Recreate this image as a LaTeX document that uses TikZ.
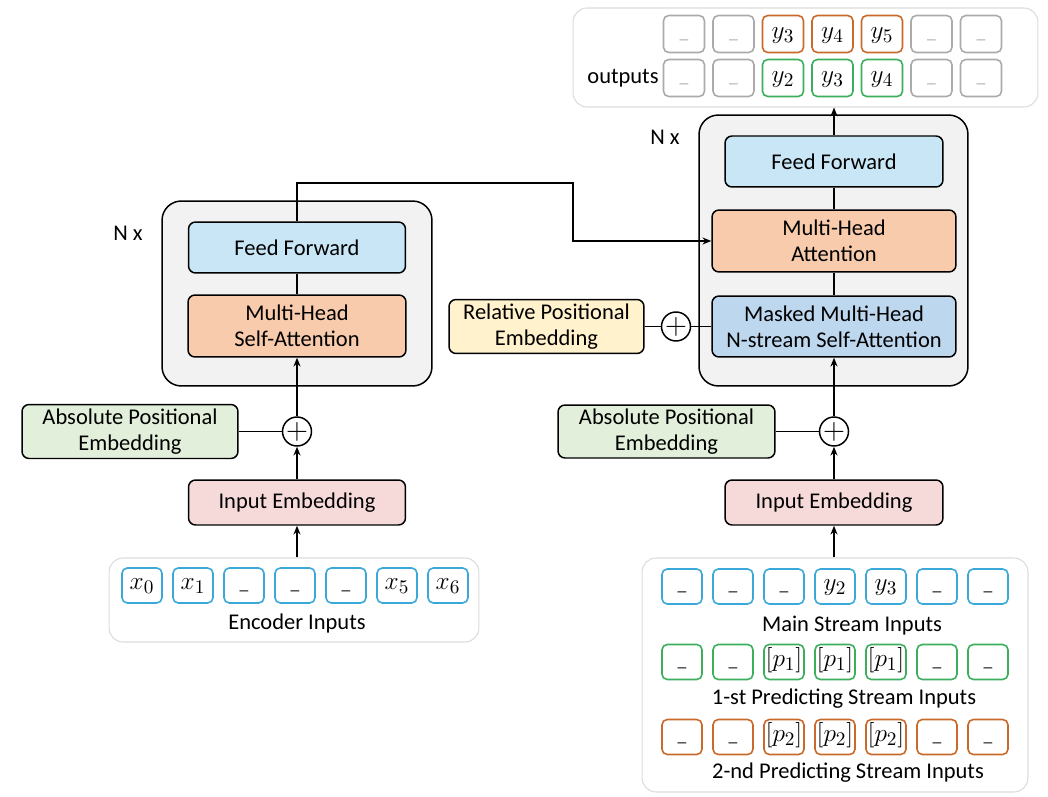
\documentclass[tikz,border=0pt]{standalone}
\usepackage{fontspec}
\setmainfont{Carlito}
\usetikzlibrary{arrows.meta}
\definecolor{ffblue}{HTML}{C8E6F5}
\definecolor{attorange}{HTML}{F7CBAC}
\definecolor{maskblue}{HTML}{BDD7EE}
\definecolor{relyellow}{HTML}{FFF2CC}
\definecolor{absgreen}{HTML}{E2EFDA}
\definecolor{embpink}{HTML}{F6DADA}
\definecolor{blkgray}{HTML}{F2F2F2}
\definecolor{cellblue}{HTML}{3AA8D8}
\definecolor{cellgreen}{HTML}{3BAF5B}
\definecolor{cellorange}{HTML}{C96A2A}
\definecolor{cellgray}{HTML}{ABABAB}
\definecolor{panelgray}{HTML}{DCDCDC}
\newcommand{\blank}{{\fontsize{10}{10}\selectfont\_}}
\newcommand{\gblank}{\textcolor{cellgray}{\blank}}
\begin{document}
\begin{tikzpicture}[x=0.02cm, y=-0.02cm, font=\fontsize{12.8}{15}\selectfont, >={Stealth[length=5pt,width=4pt]},
	box/.style={draw, line width=0.85pt, rounded corners=4pt, align=center, inner sep=0pt},
	blk/.style={draw, line width=0.85pt, rounded corners=11pt, fill=blkgray},
	panel/.style={draw=panelgray, line width=0.6pt, rounded corners=8pt, fill=white},
	cell/.style={draw=#1, line width=0.9pt, rounded corners=3pt, minimum width=0.8cm, minimum height=0.7cm, inner sep=0pt, text height=9pt, text depth=4pt, font=\fontsize{15}{16}\selectfont},
	plus/.style={draw, circle, line width=0.85pt, minimum size=0.56cm, inner sep=0pt, fill=white, font=\fontsize{16}{16}\selectfont},
	link/.style={line width=0.75pt}]
	\useasboundingbox (0,0) rectangle (1048,797);
	\node[blk, minimum width=5.4cm, minimum height=3.7cm] (encblk) at (297,293.5) {};
	\node[blk, minimum width=5.38cm, minimum height=5.42cm] (decblk) at (833.5,250.5) {};
	\node (encn) at (128,233) {N x};
	\node (decn) at (665,137) {N x};
	\node[box, fill=ffblue, minimum width=4.34cm, minimum height=1.02cm] (encff) at (297,247.5) {Feed Forward};
	\node[box, fill=attorange, minimum width=4.36cm, minimum height=1.24cm] (encatt) at (297,326) {Multi-Head\\Self-Attention};
	\node[plus] (encadd) at (297,431.5) {$+$};
	\node[box, fill=absgreen, minimum width=4.32cm, minimum height=1.08cm] (encabs) at (130,431.5) {Absolute Positional\\Embedding};
	\node[box, fill=embpink, minimum width=4.34cm, minimum height=0.9cm] (encemb) at (297,502.5) {Input Embedding};
	\node[panel, minimum width=7.4cm, minimum height=1.68cm] (encin) at (294,600) {};
	\foreach \t [count=\i from 0] in {$x_0$,$x_1$,\blank,\blank,\blank,$x_5$,$x_6$}{
		\node[cell=cellblue] (ein\i) at (142+51*\i,585.5) {\t};
	}
	\node (encinlbl) at (297,624) {Encoder Inputs};
	\node[box, fill=ffblue, minimum width=4.36cm, minimum height=1.02cm] (decff) at (834,161.5) {Feed Forward};
	\node[box, fill=attorange, minimum width=4.88cm, minimum height=1.24cm] (decatt) at (834,241) {Multi-Head\\Attention};
	\node[box, fill=maskblue, minimum width=4.88cm, minimum height=1.22cm] (decmask) at (834,326.5) {Masked Multi-Head\\N-stream Self-Attention};
	\node[plus] (reladd) at (676,326.5) {$+$};
	\node[box, fill=relyellow, minimum width=3.9cm, minimum height=1.08cm] (decrel) at (546.5,326.5) {Relative Positional\\Embedding};
	\node[plus] (decadd) at (834,431.5) {$+$};
	\node[box, fill=absgreen, minimum width=4.34cm, minimum height=1.06cm] (decabs) at (666.5,431.5) {Absolute Positional\\Embedding};
	\node[box, fill=embpink, minimum width=4.36cm, minimum height=0.9cm] (decemb) at (834,502.5) {Input Embedding};
	\node[panel, minimum width=7.72cm, minimum height=4.68cm] (decin) at (835,675) {};
	\foreach \t [count=\i from 0] in {\blank,\blank,\blank,$y_2$,$y_3$,\blank,\blank}{
		\node[cell=cellblue] (min\i) at (682+51*\i,586.5) {\t};
	}
	\foreach \t [count=\i from 0] in {\blank,\blank,$[p_1]$,$[p_1]$,$[p_1]$,\blank,\blank}{
		\node[cell=cellgreen] (fin\i) at (682+51*\i,662) {\t};
	}
	\foreach \t [count=\i from 0] in {\blank,\blank,$[p_2]$,$[p_2]$,$[p_2]$,\blank,\blank}{
		\node[cell=cellorange] (sin\i) at (682+51*\i,737) {\t};
	}
	\node (minlbl) at (852,626) {Main Stream Inputs};
	\node (finlbl) at (844,699) {1-st Predicting Stream Inputs};
	\node (sinlbl) at (848,773) {2-nd Predicting Stream Inputs};
	\node[panel, minimum width=9.3cm, minimum height=1.98cm] (outp) at (805.5,57.5) {};
	\foreach \t/\c [count=\i from 0] in {\gblank/cellgray,\gblank/cellgray,$y_3$/cellorange,$y_4$/cellorange,$y_5$/cellorange,\gblank/cellgray,\gblank/cellgray}{
		\node[cell=\c, minimum width=0.82cm, minimum height=0.74cm] (oa\i) at (684+49.5*\i,34) {\t};
	}
	\foreach \t/\c [count=\i from 0] in {\gblank/cellgray,\gblank/cellgray,$y_2$/cellgreen,$y_3$/cellgreen,$y_4$/cellgreen,\gblank/cellgray,\gblank/cellgray}{
		\node[cell=\c, minimum width=0.82cm, minimum height=0.74cm] (ob\i) at (684+49.5*\i,78) {\t};
	}
	\node (outlbl) at (623,78) {outputs};
	\coordinate (cross1) at (297,183);
	\coordinate (cross2) at (573,183);
	\draw[link,->] (encemb |- encin.north) -- (encemb.south);
	\draw[link,->] (encemb) -- (encadd);
	\draw[link,->] (encadd) -- (encatt);
	\draw[link] (encabs) -- (encadd);
	\draw[link] (encatt) -- (encff);
	\draw[link,->] (encff.north) -- (cross1) -- (cross2) |- (decatt.west);
	\draw[link,->] (decemb |- decin.north) -- (decemb.south);
	\draw[link,->] (decemb) -- (decadd);
	\draw[link,->] (decadd) -- (decmask);
	\draw[link] (decabs) -- (decadd);
	\draw[link] (decrel) -- (reladd) -- (decmask);
	\draw[link] (decmask) -- (decatt);
	\draw[link] (decatt) -- (decff);
	\draw[link,->] (decff.north) -- (decff |- outp.south);
\end{tikzpicture}
\end{document}
